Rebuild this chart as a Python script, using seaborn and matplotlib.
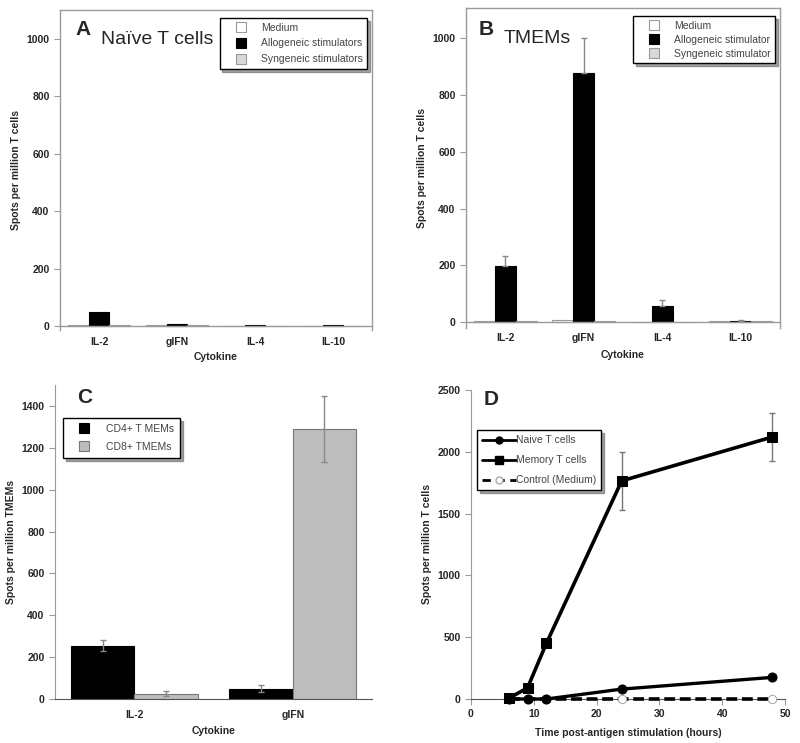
import matplotlib
matplotlib.use("Agg")
import matplotlib.pyplot as plt
import seaborn as sns
import pandas as pd
from matplotlib.lines import Line2D

# ---- data ----
cytokines_ab = ["IL-2", "gIFN", "IL-4", "IL-10"]

# panel A: naive T cells
naive_medium = [2, 2, 1, 1]
naive_allo = [47, 6, 3, 2]
naive_syn = [3, 2, 1, 1]

# panel B: TMEMs
tmem_medium = [3, 8, 2, 5]
tmem_allo = [197, 875, 58, 5]
tmem_allo_err = [35, 125, 22, 2]
tmem_syn = [4, 4, 2, 6]

# panel C: CD4 vs CD8
cytokines_c = ["IL-2", "gIFN"]
cd4 = [255, 50]
cd4_err = [25, 15]
cd8 = [25, 1290]
cd8_err = [13, 157]

# panel D: time course
hours = [6, 9, 12, 24, 48]
naive_spots = [0, 0, 0, 80, 175]
memory_spots = [5, 90, 450, 1765, 2120]
memory_err = [0, 0, 0, 232, 197]
control_spots = [0, 0, 0, 0, 0]

sns.set_style("white")
plt.rcParams["font.family"] = ["Liberation Sans", "DejaVu Sans"]

fig = plt.figure(figsize=(8, 7.43), dpi=100)
W, H = 800, 743


def add_axes_px(left, top, right, bottom):
    return fig.add_axes([left / W, 1 - bottom / H, (right - left) / W, (bottom - top) / H])


def style_frame(ax):
    for s in ax.spines.values():
        s.set_color("#9a9a9a")
        s.set_linewidth(1.0)


def legend_box(ax, handles, labels, loc, anchor, fs=7.5, **kw):
    leg = ax.legend(handles, labels, loc=loc, bbox_to_anchor=anchor, fontsize=fs,
                    frameon=True, fancybox=False, shadow=True, framealpha=1,
                    edgecolor="black", borderaxespad=0, **kw)
    leg.get_frame().set_linewidth(1.0)
    leg.set_zorder(10)
    for t in leg.get_texts():
        t.set_color("#444444")
    return leg


def square(fc, ec, ms=7):
    return Line2D([], [], linestyle="none", marker="s", ms=ms, mfc=fc, mec=ec, mew=0.8)


def bar_panel(ax, cats, series, names, colors, edges, ylim, yticks):
    rows = []
    for name, vals in zip(names, series):
        for c, v in zip(cats, vals):
            rows.append({"cat": c, "grp": name, "val": v})
    df = pd.DataFrame(rows)
    sns.barplot(data=df, x="cat", y="val", hue="grp", order=cats, hue_order=names,
                palette=dict(zip(names, colors)), width=0.8, errorbar=None,
                linewidth=0.8, ax=ax, legend=False)
    for cont, ec in zip(ax.containers, edges):
        for p in cont:
            p.set_edgecolor(ec)
    ax.set_ylim(*ylim)
    ax.set_yticks(yticks)
    ax.set_xlim(-0.5, len(cats) - 0.5)
    return df


# ---------------- Panel A ----------------
axA = add_axes_px(60, 10, 372, 330)
cols3 = ["white", "black", "#d8d8d8"]
edges3 = ["#9a9a9a", "black", "#9a9a9a"]
names_a = ["Medium", "Allogeneic stimulators", "Syngeneic stimulators"]
bar_panel(axA, cytokines_ab, [naive_medium, naive_allo, naive_syn], names_a,
          cols3, edges3, (-14, 1100), [0, 200, 400, 600, 800, 1000])

# ---------------- Panel B ----------------
axB = add_axes_px(466, 8, 780, 328)
names_b = ["Medium", "Allogeneic stimulator", "Syngeneic stimulator"]
bar_panel(axB, cytokines_ab, [tmem_medium, tmem_allo, tmem_syn], names_b,
          cols3, edges3, (-20, 1105), [0, 200, 400, 600, 800, 1000])
for p, v, e in zip(axB.containers[1], tmem_allo, tmem_allo_err):
    xc = p.get_x() + p.get_width() / 2
    axB.errorbar([xc], [v], yerr=[[0], [e]], fmt="none", ecolor="#888888",
                 elinewidth=1, capsize=2, capthick=1)

for ax, names, lsp in [(axA, names_a, 0.55), (axB, names_b, 0.38)]:
    style_frame(ax)
    ax.spines["bottom"].set_position(("data", 0))
    ax.set_xticks(range(4))
    ax.set_xticks([0.5, 1.5, 2.5], minor=True)
    ax.tick_params(axis="x", which="major", length=0, pad=8, labelsize=7.5)
    ax.tick_params(axis="x", which="minor", length=4, direction="out", color="#9a9a9a")
    ax.tick_params(axis="y", length=4, direction="out", color="#9a9a9a", labelsize=7.5, left=True)
    for t in ax.get_xticklabels() + ax.get_yticklabels():
        t.set_fontweight("bold")
    ax.set_xlabel("Cytokine", fontsize=7.5, fontweight="bold")
    ax.set_ylabel("Spots per million T cells", fontsize=7.5, fontweight="bold")
    hs = [square(c, e) for c, e in zip(cols3, edges3)]
    legend_box(ax, hs, names, "upper right", (0.985, 0.975), handlelength=3.2,
               handletextpad=0.3, borderpad=0.45, labelspacing=lsp)

axA.xaxis.set_label_coords(0.5, -0.07)
axB.xaxis.set_label_coords(0.5, -0.07)
axA.text(0.05, 0.922, "A", transform=axA.transAxes, fontsize=15, fontweight="bold")
axA.text(0.13, 0.895, "Naïve T cells", transform=axA.transAxes, fontsize=14)
axB.text(0.04, 0.916, "B", transform=axB.transAxes, fontsize=15, fontweight="bold")
axB.text(0.12, 0.89, "TMEMs", transform=axB.transAxes, fontsize=14)

# ---------------- Panel C ----------------
axC = add_axes_px(55, 385, 372, 699)
names_c = ["CD4+ T MEMs", "CD8+ TMEMs"]
cols_c = ["black", "#bdbdbd"]
edges_c = ["black", "#777777"]
bar_panel(axC, cytokines_c, [cd4, cd8], names_c, cols_c, edges_c, (0, 1500),
          [0, 200, 400, 600, 800, 1000, 1200, 1400])
for cont, vals, errs in zip(axC.containers, [cd4, cd8], [cd4_err, cd8_err]):
    for p, v, e in zip(cont, vals, errs):
        xc = p.get_x() + p.get_width() / 2
        axC.errorbar([xc], [v], yerr=[e], fmt="none", ecolor="#888888",
                     elinewidth=1, capsize=2, capthick=1)
hs = [square(c, e) for c, e in zip(cols_c, edges_c)]
legend_box(axC, hs, names_c, "upper left", (0.025, 0.895), handlelength=3.0,
           handletextpad=0.6, borderpad=0.55, labelspacing=0.8)
axC.set_xlabel("Cytokine", fontsize=7.5, fontweight="bold", labelpad=4)
axC.set_ylabel("Spots per million TMEMs", fontsize=7.5, fontweight="bold")
axC.text(0.07, 0.943, "C", transform=axC.transAxes, fontsize=15, fontweight="bold")

# ---------------- Panel D ----------------
axD = add_axes_px(471, 390, 785, 699)
dfD = pd.DataFrame({"h": hours, "naive": naive_spots, "memory": memory_spots,
                    "control": control_spots})
sns.lineplot(data=dfD, x="h", y="control", ax=axD, color="black", linewidth=2.6,
             marker="o", markersize=6, markerfacecolor="white",
             markeredgecolor="#aaaaaa")
axD.lines[-1].set_dashes([3, 1.3])
sns.lineplot(data=dfD, x="h", y="naive", ax=axD, color="black", linewidth=2.4,
             marker="o", markersize=6.5, markeredgecolor="black")
sns.lineplot(data=dfD, x="h", y="memory", ax=axD, color="black", linewidth=2.6,
             marker="s", markersize=7.5, markeredgecolor="black")
for ln in axD.lines:
    ln.set_clip_on(False)
    ln.set_zorder(3)
axD.errorbar(dfD["h"], dfD["memory"], yerr=memory_err, fmt="none", ecolor="#777777",
             elinewidth=1, capsize=2, capthick=1)
axD.set_xlim(0, 50)
axD.set_ylim(0, 2500)
axD.set_xticks([0, 10, 20, 30, 40, 50])
axD.set_yticks([0, 500, 1000, 1500, 2000, 2500])
axD.set_xlabel("Time post-antigen stimulation (hours)", fontsize=7.5, fontweight="bold",
               labelpad=6)
axD.set_ylabel("Spots per million T cells", fontsize=7.5, fontweight="bold")
hsD = [Line2D([], [], color="black", lw=2, marker="o", ms=5),
       Line2D([], [], color="black", lw=2, marker="s", ms=5.5),
       Line2D([], [], color="black", lw=2, ls=(0, (3, 2)), marker="o", ms=5,
              mfc="white", mec="#aaaaaa")]
legend_box(axD, hsD, ["Naive T cells", "Memory T cells", "Control (Medium)"],
           "upper left", (0.02, 0.87), handlelength=3.2, handletextpad=0.0,
           borderpad=0.5, labelspacing=0.95)
axD.text(0.04, 0.95, "D", transform=axD.transAxes, fontsize=15, fontweight="bold")

for ax in (axC, axD):
    sns.despine(ax=ax)
    ax.spines["left"].set_color("#9a9a9a")
    ax.spines["bottom"].set_color("#555555")
    ax.tick_params(axis="both", length=4, direction="out", color="#9a9a9a",
                   labelsize=7.5, left=True, bottom=True)
    for t in ax.get_xticklabels() + ax.get_yticklabels():
        t.set_fontweight("bold")
axC.tick_params(axis="x", length=0, pad=8)

fig.savefig("out.png", dpi=100)
